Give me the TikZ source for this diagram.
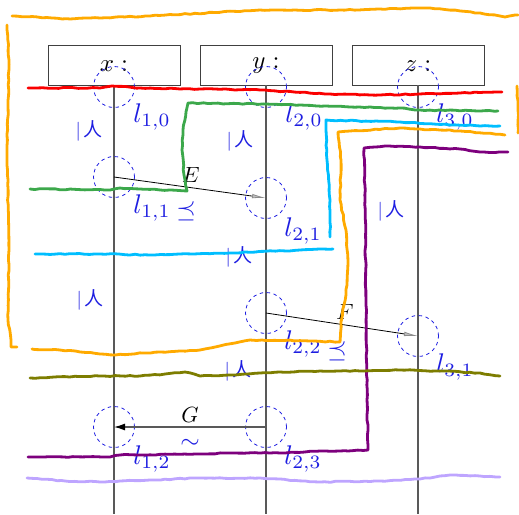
\documentclass[tikz,border=0pt]{standalone}
\usepackage{fontspec}
\newfontfamily\cjk{Noto Sans CJK SC}
\usetikzlibrary{arrows.meta,decorations.pathmorphing}
\definecolor{lblue}{RGB}{30,30,225}
\definecolor{hlorange}{RGB}{255,170,0}
\definecolor{hlred}{RGB}{250,0,0}
\definecolor{hlgreen}{RGB}{60,168,75}
\definecolor{hlcyan}{RGB}{0,190,255}
\definecolor{hlpurple}{RGB}{125,0,125}
\definecolor{hlolive}{RGB}{125,125,0}
\definecolor{hllav}{RGB}{190,165,255}
\newcommand{\concsym}{$|$\hspace{0.12em}{\cjk 人}}
\begin{document}
\begin{tikzpicture}[x=1pt,y=-1pt,
  objbox/.style={draw=black!75, line width=0.8pt, minimum width=132pt, minimum height=40pt, inner sep=0pt},
  objtext/.style={scale=2.5, inner sep=0pt},
  life/.style={draw=black!65, line width=1.2pt},
  spot/.style={circle, draw=lblue, dash pattern=on 3.5pt off 3.5pt, line width=0.8pt, minimum size=41pt, inner sep=0pt},
  lab/.style={text=lblue, scale=2.7, inner sep=0pt},
  rel/.style={text=lblue, scale=2.5, inner sep=0pt},
  conc/.style={text=lblue, scale=1.9, inner sep=0pt},
  msg/.style={scale=2.2, inner sep=0pt},
  hl/.style={line width=2.8pt, line cap=round, line join=round, decorate,
    decoration={random steps, segment length=5pt, amplitude=0.5pt}}
]
\pgfmathsetseed{7}
\useasboundingbox (0,0) rectangle (519,514);

% object boxes
\node[objbox] (bx) at (114,65) {};
\node[objbox] (by) at (266,65) {};
\node[objbox] (bz) at (418,65) {};
\node[objtext] (tx) at (114,66) {$x:$};
\node[objtext] (ty) at (266,66) {$y:$};
\node[objtext] (tz) at (418,66) {$z:$};

% lifeline ends
\coordinate (ex) at (114,514);
\coordinate (ey) at (266,514);
\coordinate (ez) at (418,514);
\draw[life] (bx.south) -- (ex);
\draw[life] (by.south) -- (ey);
\draw[life] (bz.south) -- (ez);

% dashed spots
\node[spot] (c10) at (114,87) {};
\node[spot] (c11) at (114,177) {};
\node[spot] (c12) at (114,427) {};
\node[spot] (c20) at (266,87) {};
\node[spot] (c21) at (266,198) {};
\node[spot] (c22) at (266,313) {};
\node[spot] (c23) at (266,427) {};
\node[spot] (c30) at (418,87) {};
\node[spot] (c31) at (418,336) {};

% messages
\draw[black, line width=0.8pt, -{Latex[length=14pt,width=4.5pt,fill=black!25,color=black!45]}] (c11.center) -- (c21.center);
\draw[black, line width=0.8pt, -{Latex[length=14pt,width=4.5pt,fill=black!25,color=black!45]}] (c22.center) -- (c31.center);
\draw[black!65, line width=1.3pt, -{Latex[length=11pt,width=7pt,fill=black,color=black]}] (c23.center) -- (c12.center);
\node[msg] (mE) at (191,175) {$E$};
\node[msg] (mF) at (345,312) {$F$};
\node[msg] (mG) at (190,415) {$G$};

% labels
\node[lab] (l10) at (152,117) {$l_{1,0}$};
\node[lab] (l20) at (304,117) {$l_{2,0}$};
\node[lab] (l30) at (455,117) {$l_{3,0}$};
\node[lab] (l11) at (152,208) {$l_{1,1}$};
\node[lab] (l21) at (303,231) {$l_{2,1}$};
\node[lab] (l22) at (303,344) {$l_{2,2}$};
\node[lab] (l31) at (455,367) {$l_{3,1}$};
\node[lab] (l12) at (152,459) {$l_{1,2}$};
\node[lab] (l23) at (303,459) {$l_{2,3}$};
\node[rel] (p1) at (186,211) {$\preceq$};
\node[rel] (p2) at (337,351) {$\preceq$};
\node[rel] (s1) at (190,444) {$\sim$};

% concurrency marks
\node[conc] (k1) at (89,131) {\concsym};
\node[conc] (k2) at (240,141) {\concsym};
\node[conc] (k3) at (239,257) {\concsym};
\node[conc] (k4) at (90,300) {\concsym};
\node[conc] (k5) at (391,211) {\concsym};
\node[conc] (k6) at (238,371) {\concsym};

% highlighter strokes
\draw[hl, hlorange] (12,16) -- (70,19) -- (150,16) -- (260,10) -- (340,10) -- (430,8) -- (480,13) -- (505,17) -- (518,15);
\draw[hl, hlorange] (517,86) -- (518,110) -- (518,133);
\draw[hl, hlorange] (505,135) -- (460,131) -- (400,128) -- (350,131) -- (338,132) -- (341,160) -- (340,200) -- (346,230) -- (348,262) -- (347,285) -- (344,305) -- (341,322) -- (340,342) -- (310,341) -- (262,340) -- (250,340) -- (200,350) -- (160,352) -- (115,355) -- (60,350) -- (32,349);
\draw[hl, hlorange] (7,25) -- (9,60) -- (7,150) -- (9,250) -- (8,320) -- (11,340) -- (11,347) -- (17,347);
\draw[hl, hlred] (28,88) -- (100,88) -- (112,86) -- (140,88) -- (200,89) -- (260,90) -- (330,94) -- (380,95) -- (420,94) -- (460,93) -- (502,92);
\draw[hl, hlgreen] (30,189) -- (110,190) -- (120,188) -- (187,191) -- (184,175) -- (182,150) -- (183,130) -- (186,112) -- (188,103) -- (266,104) -- (350,107) -- (400,108) -- (420,110) -- (498,111);
\draw[hl, hlcyan] (35,254) -- (100,254) -- (150,255) -- (230,253) -- (300,250) -- (333,249);
\draw[hl, hlcyan] (330,237) -- (330,200) -- (327,160) -- (326,130) -- (326,120) -- (400,122) -- (450,125) -- (500,126);
\draw[hl, hlpurple] (28,457) -- (110,457) -- (120,455) -- (200,454) -- (230,453) -- (280,453) -- (320,451) -- (348,451) -- (368,450) -- (367,400) -- (366,300) -- (365,200) -- (364,148) -- (385,146) -- (420,147) -- (460,149) -- (480,152) -- (508,152);
\draw[hl, hlolive] (30,378) -- (100,376) -- (140,376) -- (165,374) -- (185,372) -- (200,376) -- (230,375) -- (260,373) -- (320,371) -- (360,371) -- (400,370) -- (440,371) -- (480,373) -- (500,376);
\draw[hl, hllav] (27,478) -- (65,481) -- (100,482) -- (150,480) -- (200,478) -- (260,478) -- (320,482) -- (380,481) -- (420,479) -- (450,475) -- (480,476) -- (500,477);
\end{tikzpicture}
\end{document}
